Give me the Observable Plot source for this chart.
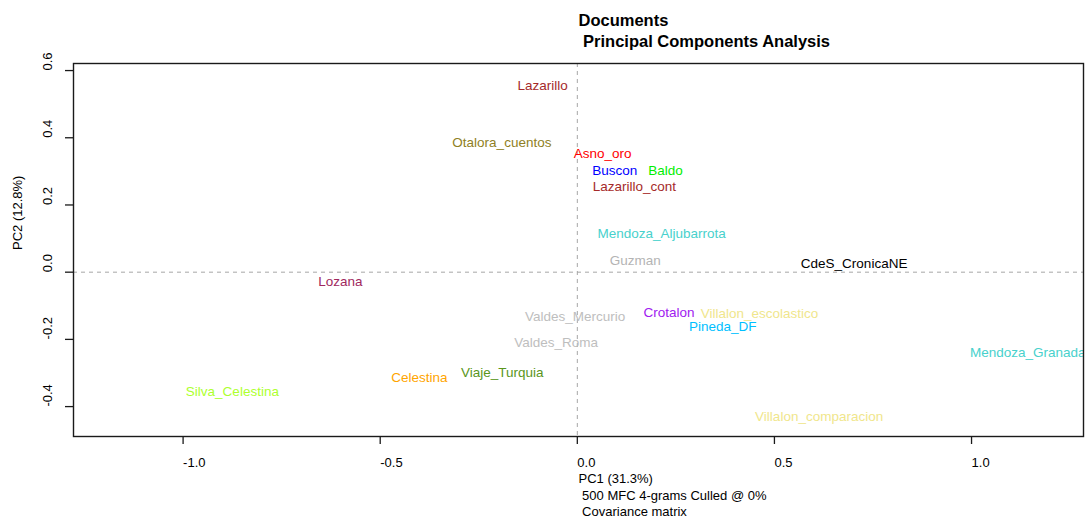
<!DOCTYPE html>
<html>
<head>
<meta charset="utf-8">
<script src="https://cdn.jsdelivr.net/npm/d3@7"></script>
<script src="https://cdn.jsdelivr.net/npm/@observablehq/plot@0.6"></script>
<style>
  html, body { margin: 0; padding: 0; background: #fff; }
  #chart svg { display: block; font-family: "Liberation Sans", Arial, Helvetica, sans-serif; }
  #chart svg text { white-space: pre; }
</style>
</head>
<body>
<div id="chart"></div>
<script>
// Documents projected onto the first two principal components
const docNames = [
  "Lazarillo", "Otalora_cuentos", "Asno_oro", "Buscon", "Baldo", "Lazarillo_cont",
  "Mendoza_Aljubarrota", "Guzman", "CdeS_CronicaNE", "Lozana", "Valdes_Mercurio",
  "Crotalon", "Villalon_escolastico", "Pineda_DF", "Valdes_Roma", "Mendoza_Granada",
  "Celestina", "Viaje_Turquia", "Silva_Celestina", "Villalon_comparacion"
];
const pc1 = [
  -0.152, -0.317, -0.009, 0.038, 0.180, 0.039,
  0.051, 0.082, 0.567, -0.657, -0.133,
  0.168, 0.313, 0.283, -0.160, 0.996,
  -0.472, -0.295, -0.993, 0.451
];
const pc2 = [
  0.555, 0.384, 0.352, 0.302, 0.302, 0.255,
  0.116, 0.033, 0.025, -0.028, -0.131,
  -0.120, -0.124, -0.163, -0.210, -0.239,
  -0.313, -0.299, -0.355, -0.430
];
const docColors = [
  "#a52a2a", "#8f7f24", "#ff0000", "#0000ff", "#00ee00", "#a52a2a",
  "#48d1cc", "#b4b4b4", "#000000", "#a0285e", "#bebebe",
  "#a020f0", "#f0e68c", "#00bfff", "#bebebe", "#48d1cc",
  "#ffa500", "#5a961c", "#adff2f", "#f0e68c"
];

const xTicks = [-1, -0.5, 0, 0.5, 1];
const yTicks = [-0.4, -0.2, 0, 0.2, 0.4, 0.6];
const xRange = [-1.278, 1.284];
const yRange = [-0.489, 0.621];

const titleLines = ["Documents", " Principal Components Analysis"];
const xLabelLines = ["PC1 (31.3%)", " 500 MFC 4-grams Culled @ 0%", " Covariance matrix"];
const yLabel = "PC2 (12.8%)";

const docs = docNames.map((name, i) => ({name, pc1: pc1[i], pc2: pc2[i], color: docColors[i]}));
const fmt = d => (d < 0 ? "-" : "") + Math.abs(d).toFixed(1);
const ink = "#1a1a1a";

// one text mark per line of the x-axis caption, stacked below the tick labels
const xLabelMarks = xLabelLines.map((line, i) =>
  Plot.text([line], {
    frameAnchor: "bottom", dy: 42.5 + 16.5 * i, text: d => d,
    textAnchor: "start", lineAnchor: "middle", fontSize: 13, fill: "#000"
  })
);

const chart = Plot.plot({
  width: 1085,
  height: 519,
  marginLeft: 73,
  marginRight: 2,
  marginTop: 63,
  marginBottom: 83,
  style: {fontFamily: '"Liberation Sans", Arial, Helvetica, sans-serif', background: "#fff"},
  x: {domain: xRange},
  y: {domain: yRange},
  marks: [
    // reference lines through the origin
    Plot.ruleX([0], {stroke: "#a6a6a6", strokeDasharray: "4,4", strokeWidth: 1}),
    Plot.ruleY([0], {stroke: "#a6a6a6", strokeDasharray: "4,4", strokeWidth: 1}),
    // document labels
    Plot.text(docs, {
      x: "pc1", y: "pc2", text: "name", fill: "color",
      textAnchor: "start", lineAnchor: "middle", fontSize: 13.5, clip: true
    }),
    // axis ticks
    Plot.axisX({ticks: xTicks, tickSize: 8, tickFormat: () => "", label: null, stroke: ink, strokeWidth: 1.3}),
    Plot.axisY({ticks: yTicks, tickSize: 8, tickFormat: () => "", label: null, stroke: ink, strokeWidth: 1.3}),
    // tick labels
    Plot.text(xTicks, {
      x: d => d, frameAnchor: "bottom", dy: 26, text: fmt,
      textAnchor: "start", lineAnchor: "middle", fontSize: 13, fill: "#000"
    }),
    Plot.text(yTicks, {
      y: d => d, frameAnchor: "left", dx: -26, text: fmt, rotate: -90,
      textAnchor: "start", lineAnchor: "middle", fontSize: 13, fill: "#000"
    }),
    // axis titles
    Plot.text([yLabel], {
      frameAnchor: "left", dx: -56, rotate: -90, text: d => d,
      textAnchor: "start", lineAnchor: "middle", fontSize: 13, fill: "#000"
    }),
    ...xLabelMarks,
    // chart title
    Plot.text([titleLines[0]], {
      frameAnchor: "top", dy: -43, text: d => d,
      textAnchor: "start", lineAnchor: "middle", fontSize: 16.5, fontWeight: "bold", fill: "#000"
    }),
    Plot.text([titleLines[1]], {
      frameAnchor: "top", dy: -22, text: d => d,
      textAnchor: "start", lineAnchor: "middle", fontSize: 16.5, fontWeight: "bold", fill: "#000"
    }),
    Plot.frame({stroke: ink, strokeWidth: 1.4})
  ]
});

document.getElementById("chart").append(chart);
</script>
</body>
</html>
